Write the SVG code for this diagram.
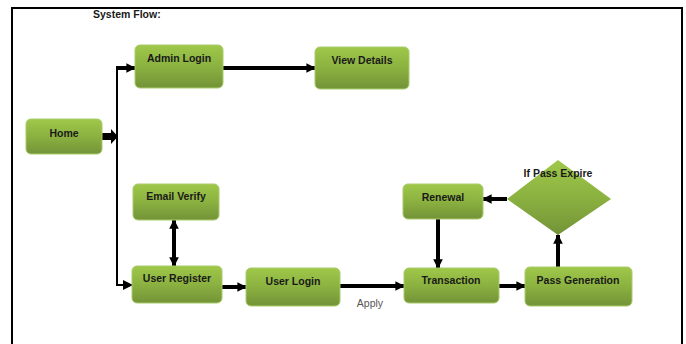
<svg xmlns="http://www.w3.org/2000/svg" width="686" height="344" viewBox="0 0 686 344">
<defs>
<linearGradient id="g" x1="0" y1="0" x2="0" y2="1">
<stop offset="0" stop-color="#9fc84a"/>
<stop offset="0.5" stop-color="#8bb140"/>
<stop offset="1" stop-color="#739338"/>
</linearGradient>
<marker id="ah" viewBox="0 0 10 10" refX="9" refY="5" markerWidth="2.4" markerHeight="2.4" orient="auto-start-reverse" markerUnits="strokeWidth">
<path d="M0,0 L10,5 L0,10 z" fill="#000"/>
</marker>
<marker id="ahs" viewBox="0 0 10 10" refX="9" refY="5" markerWidth="5" markerHeight="5" orient="auto" markerUnits="strokeWidth">
<path d="M0,0 L10,5 L0,10 z" fill="#000"/>
</marker>
<style>
.n{fill:url(#g);stroke:#a8cc6a;stroke-width:1}
.t{font-family:"Liberation Sans",Arial,sans-serif;font-weight:bold;font-size:10.5px;fill:#1a1a1a;text-anchor:middle}
.c{stroke:#000;fill:none;stroke-width:4}
.h{marker-end:url(#ah)}
</style>
</defs>
<rect width="686" height="344" fill="#fff"/>
<path d="M12,344 L12,8 L682,8 L682,344" fill="none" stroke="#000" stroke-width="2"/>
<text x="93" y="18" class="t" style="text-anchor:start">System Flow:</text>

<g id="connectors">
<path d="M117,68 L117,285" stroke="#000" stroke-width="2" fill="none"/>
<path d="M102,133 L111,133 L111,129 L118,136.5 L111,144 L111,140 L102,140 Z" fill="#000"/>
<path d="M116,68 L135,68" class="c h"/>
<path d="M116,285 L132,285" class="c h" style="stroke-width:2;marker-end:url(#ahs)"/>
<path d="M223,68 L315,68" class="c h"/>
<path d="M174,220 L174,266" class="c" marker-start="url(#ah)" marker-end="url(#ah)"/>
<path d="M222,287 L246,287" class="c h"/>
<path d="M340,286 L404,286" class="c h"/>
<path d="M499,286 L525,286" class="c h"/>
<path d="M558,267 L558,235" class="c h"/>
<path d="M507,199 L483,199" class="c h"/>
<path d="M438,219 L438,268" class="c h"/>
</g>
<text x="370" y="307" style="font-family:'Liberation Sans',Arial,sans-serif;font-size:10.5px;fill:#555;text-anchor:middle">Apply</text>

<g id="home"><rect class="n" x="26" y="119" width="76" height="35" rx="5"/><text class="t" x="64" y="137">Home</text></g>
<g id="admin-login"><rect class="n" x="135" y="45" width="88" height="43" rx="5"/><text class="t" x="179" y="62">Admin Login</text></g>
<g id="view-details"><rect class="n" x="315" y="47" width="94" height="42" rx="5"/><text class="t" x="362" y="64">View Details</text></g>
<g id="email-verify"><rect class="n" x="133" y="184" width="86" height="36" rx="5"/><text class="t" x="176" y="200">Email Verify</text></g>
<g id="user-register"><rect class="n" x="132" y="266" width="90" height="37" rx="5"/><text class="t" x="177" y="282">User Register</text></g>
<g id="user-login"><rect class="n" x="246" y="268" width="94" height="38" rx="5"/><text class="t" x="293" y="285">User Login</text></g>
<g id="transaction"><rect class="n" x="404" y="268" width="95" height="35" rx="5"/><text class="t" x="451" y="284">Transaction</text></g>
<g id="pass-generation"><rect class="n" x="525" y="267" width="107" height="39" rx="5"/><text class="t" x="578" y="284">Pass Generation</text></g>
<g id="renewal"><rect class="n" x="403" y="184" width="80" height="35" rx="5"/><text class="t" x="443" y="201">Renewal</text></g>
<g id="if-pass-expire"><path class="n" d="M558,160 L611,199 L558,235 L507,199 Z" style="stroke:none"/><text class="t" x="558" y="177">If Pass Expire</text></g>
</svg>
